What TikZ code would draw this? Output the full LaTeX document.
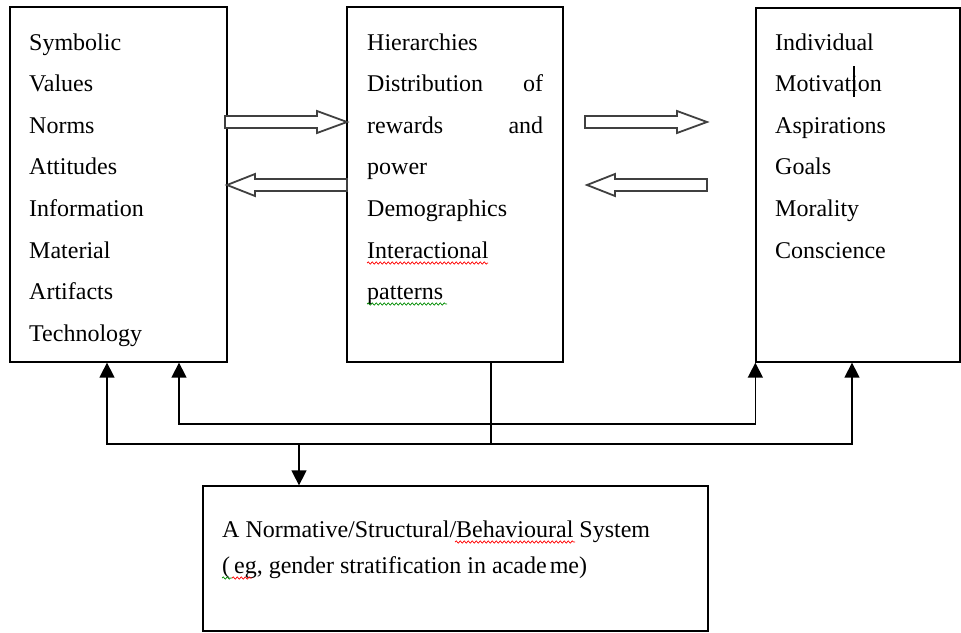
\documentclass[tikz,border=0pt]{standalone}
\usepackage{fontspec}
\setmainfont{Liberation Serif}
\usetikzlibrary{arrows.meta,decorations.pathmorphing}

\begin{document}
\begin{tikzpicture}[x=1pt,y=-1pt,
  box/.style={draw, line width=1.3pt, inner sep=0pt},
  item/.style={anchor=base west, inner sep=0pt, font=\fontsize{24}{28}\selectfont},
  link/.style={line width=1.5pt},
  tipped/.style={-{Triangle[width=15pt,length=15pt]}},
  bothtips/.style={{Triangle[width=15pt,length=15pt]}-{Triangle[width=15pt,length=15pt]}},
  hollow/.style={draw=black!75, line width=1.8pt, fill=white, line join=miter},
  spell/.style={decorate, decoration={snake, amplitude=1.1pt, segment length=4pt}, line width=0.7pt},
]
\useasboundingbox (0,0) rectangle (961,632);

% the four boxes
\node[box, minimum width=217pt, minimum height=355pt] (cult) at (118.5,184.5) {};
\node[box, minimum width=216pt, minimum height=355pt] (struct) at (455,184.5) {};
\node[box, minimum width=204pt, minimum height=354pt] (indiv) at (858,185) {};
\node[box, minimum width=505pt, minimum height=145pt] (sys) at (455.5,558.5) {};

% cultural items
\foreach \t [count=\i from 0] in {Symbolic,Values,Norms,Attitudes,Information,Material,Artifacts,Technology}
  \node[item] (c\i) at (29,50+41.6*\i) {\t};

% structural items
\node[item] (m0) at (367,50) {Hierarchies};
\node[item] (m1) at (367,91.6) {\makebox[176pt][s]{Distribution\hfill of}};
\node[item] (m2) at (367,133.2) {\makebox[176pt][s]{rewards\hfill and}};
\node[item] (m3) at (367,174.8) {power};
\node[item] (m4) at (367,216.4) {Demographics};
\node[item] (m5) at (367,258) {Interactional};
\node[item] (m6) at (367,299.6) {patterns};

% individual items
\foreach \t [count=\i from 0] in {Individual,Motivation,Aspirations,Goals,Morality,Conscience}
  \node[item] (r\i) at (775,50+41.6*\i) {\t};

% system description
\node[item] (sysA) at (222,537) {A Normative/Structural/Behavioural System};
\node[item] (sysB) at (222,573) {(\,eg, gender stratification in acade\hspace{3pt}me)};

% spell-check underlines
\draw[spell, red] (367,263) -- (488,263);
\draw[spell, green!55!black] (367,304) -- (447,304);
\draw[spell, red] (455,542) -- (575,542);
\draw[spell, green!55!black] (222,578) -- (232,578);
\draw[spell, red] (232,578) -- (252,578);

% text cursor
\draw[line width=2.8pt] (854,66) -- (854,97);

% hollow block arrows between the boxes
\draw[hollow] (225,116) -- (317,116) -- (317,111) -- (347,122) -- (317,133) -- (317,128) -- (225,128) -- cycle;
\draw[hollow] (347,179) -- (255,179) -- (255,174) -- (227,185) -- (255,196) -- (255,191) -- (347,191) -- cycle;
\draw[hollow] (585,116) -- (677,116) -- (677,111) -- (707,122) -- (677,133) -- (677,128) -- (585,128) -- cycle;
\draw[hollow] (707,179) -- (615,179) -- (615,174) -- (587,185) -- (615,196) -- (615,191) -- (707,191) -- cycle;

% feedback connectors
\coordinate (jn) at (491,444);
\coordinate (drop) at (299,444);
\draw[link] (struct.south -| jn) -- (jn);
\draw[link, bothtips] (cult.south -| 107,0) -- (107,444) -- (852,444) -- (indiv.south -| 852,0);
\draw[link, bothtips] (cult.south -| 179,0) -- (179,424) -- (indiv.south west |- 0,424) -- (indiv.south west);
\draw[link, tipped] (drop) -- (sys.north -| drop);
\end{tikzpicture}
\end{document}
